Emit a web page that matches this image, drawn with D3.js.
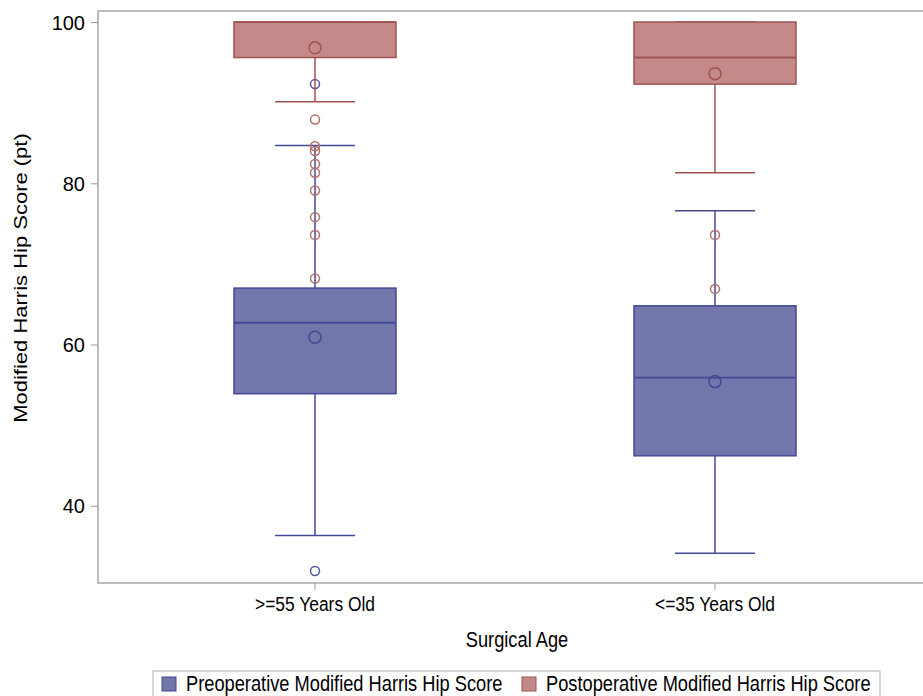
<!DOCTYPE html>
<html>
<head>
<meta charset="utf-8">
<script src="https://cdn.jsdelivr.net/npm/d3@7"></script>
<style>
  body { margin: 0; background: #fff; }
  text { font-family: "Liberation Sans", Arial, sans-serif; fill: #000; }
</style>
</head>
<body>
<div id="chart"></div>
<script>
const categories = [">=55 Years Old", "<=35 Years Old"];
const seriesNames = ["Preoperative Modified Harris Hip Score", "Postoperative Modified Harris Hip Score"];
const yTicks = [40, 60, 80, 100];

// box stats per category: [min, q1, median, q3, max, mean]
const preStats = [
  [36.3, 53.9, 62.7, 67.0, 84.7, 60.9],
  [34.1, 46.2, 55.9, 64.8, 76.6, 55.4],
];
const postStats = [
  [90.1, 95.6, 100, 100, 100, 96.8],
  [81.3, 92.3, 95.6, 100, 100, 93.6],
];
const preOutliers = [
  [92.3, 31.9],
  [],
];
const postOutliers = [
  [87.9, 84.6, 84.0, 82.4, 81.3, 79.1, 75.8, 73.6, 68.2],
  [73.6, 66.9],
];

const W = 923, H = 696;
const frame = { left: 98, right: 940, top: 11, bottom: 583 };
// text in the picture looks squeezed sideways
const sx = 0.83;
const fs = 21;

const colors = [
  { fill: "rgb(114,118,170)", stroke: "rgb(68,72,150)", dot: "rgb(80,85,165)" },
  { fill: "rgb(196,138,138)", stroke: "rgb(160,82,82)", dot: "rgb(180,110,100)" },
];

const svg = d3.select("#chart").append("svg").attr("width", W).attr("height", H);

const x = d3.scaleBand().domain(categories).range([115, 915]);
const y = d3.scaleLinear().domain([30.42, 101.37]).range([frame.bottom, frame.top]);

svg.append("rect")
  .attr("x", frame.left).attr("y", frame.top)
  .attr("width", frame.right - frame.left).attr("height", frame.bottom - frame.top)
  .attr("fill", "none").attr("stroke", "#9a9a9a").attr("stroke-width", 1.3);

// y axis
const yAxis = svg.append("g")
  .attr("transform", `translate(${frame.left},0)`)
  .call(d3.axisLeft(y).tickValues(yTicks).tickSize(7).tickPadding(6));
yAxis.select(".domain").remove();
yAxis.selectAll("line").attr("stroke", "#9a9a9a");
yAxis.selectAll("text")
  .attr("font-size", 20).attr("font-family", "Liberation Sans, Arial")
  .attr("dy", "0.35em");

// x axis
const xAxis = svg.append("g")
  .attr("transform", `translate(0,${frame.bottom})`)
  .call(d3.axisBottom(x).tickSize(7).tickPadding(6));
xAxis.select(".domain").remove();
xAxis.selectAll("line").attr("stroke", "#9a9a9a");
xAxis.selectAll("text")
  .attr("font-size", fs).attr("font-family", "Liberation Sans, Arial")
  .attr("transform", `scale(${sx},1)`);

svg.append("text")
  .attr("transform", `translate(517,647) scale(${sx},1)`)
  .attr("text-anchor", "middle").attr("font-size", fs + 1)
  .text("Surgical Age");

svg.append("text")
  .attr("transform", `translate(27,${(frame.top + frame.bottom) / 2 - 19}) scale(${sx},1) rotate(-90)`)
  .attr("text-anchor", "middle").attr("font-size", fs + 1)
  .text("Modified Harris Hip Score (pt)");

const boxW = 162, capW = 80;

const drawBoxes = (stats, outliers, c) => {
  const g = svg.append("g");
  stats.forEach(([mn, q1, med, q3, mx, mean], i) => {
    const cx = x(categories[i]) + x.bandwidth() / 2;
    g.append("line").attr("x1", cx).attr("x2", cx).attr("y1", y(q1)).attr("y2", y(mn))
      .attr("stroke", c.stroke).attr("stroke-width", 1.5);
    g.append("line").attr("x1", cx).attr("x2", cx).attr("y1", y(q3)).attr("y2", y(mx))
      .attr("stroke", c.stroke).attr("stroke-width", 1.5);
    [mn, mx].forEach((v) => {
      g.append("line").attr("x1", cx - capW / 2).attr("x2", cx + capW / 2)
        .attr("y1", y(v)).attr("y2", y(v))
        .attr("stroke", c.stroke).attr("stroke-width", 1.5);
    });
    g.append("rect")
      .attr("x", cx - boxW / 2).attr("y", y(q3))
      .attr("width", boxW).attr("height", y(q1) - y(q3))
      .attr("fill", c.fill).attr("stroke", c.stroke).attr("stroke-width", 1.5);
    g.append("line").attr("x1", cx - boxW / 2).attr("x2", cx + boxW / 2)
      .attr("y1", y(med)).attr("y2", y(med))
      .attr("stroke", c.stroke).attr("stroke-width", 1.8);
    g.append("circle").attr("cx", cx).attr("cy", y(mean)).attr("r", 6)
      .attr("fill", "none").attr("stroke", c.stroke).attr("stroke-width", 1.5);
    g.selectAll(null).data(outliers[i]).enter().append("circle")
      .attr("cx", cx).attr("cy", (d) => y(d)).attr("r", 4.5)
      .attr("fill", "none").attr("stroke", c.dot).attr("stroke-width", 1.5);
  });
};

drawBoxes(preStats, preOutliers, colors[0]);
drawBoxes(postStats, postOutliers, colors[1]);

// legend
const legend = svg.append("g");
legend.append("rect")
  .attr("x", 153).attr("y", 671).attr("width", 727).attr("height", 27)
  .attr("fill", "#fff").attr("stroke", "#b0b0b0").attr("stroke-width", 1);
const items = [{ x: 162, i: 0 }, { x: 522, i: 1 }];
items.forEach(({ x: lx, i }) => {
  legend.append("rect").attr("x", lx).attr("y", 677).attr("width", 14).attr("height", 14)
    .attr("fill", colors[i].fill).attr("stroke", colors[i].stroke).attr("stroke-width", 1);
  legend.append("text")
    .attr("transform", `translate(${lx + 24},691) scale(${sx},1)`)
    .attr("font-size", 22)
    .text(seriesNames[i]);
});
</script>
</body>
</html>
